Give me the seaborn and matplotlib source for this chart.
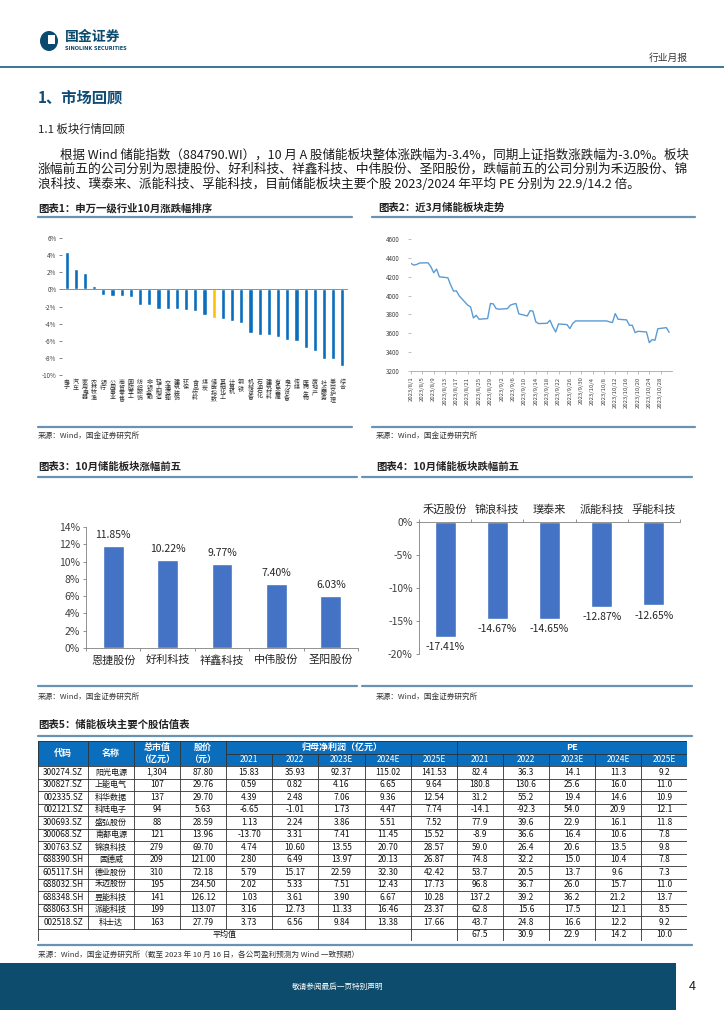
import numpy as np
import pandas as pd
import matplotlib
matplotlib.use('Agg')
import matplotlib.pyplot as plt
import matplotlib.patches as mpatches
import matplotlib.transforms as mtransforms
from matplotlib.lines import Line2D
import seaborn as sns

import warnings
warnings.filterwarnings('ignore')

sns.set_theme(style='white')
plt.rcParams['font.family'] = ['Noto Sans CJK SC', 'DejaVu Sans']
plt.rcParams['axes.unicode_minus'] = False

# ---------------- data ----------------
ind_names = ['电子', '汽车', '家用电器', '农林牧渔', '银行', '公用事业', '商贸零售', '国防军工',
             '纺织服饰', '非银金融', '轻工制造', '交通运输', '建筑装饰', '环保', '食品饮料', '煤炭',
             '储能指数', '基础化工', '计算机', '钢铁', '机械设备', '石油石化', '建筑材料', '有色金属',
             '电力设备', '传媒', '医药生物', '房地产', '社会服务', '美容护理', '综合']
ind_chg = [4.35, 2.35, 1.88, 0.35, -0.67, -0.78, -0.80, -0.90, -1.85, -1.88, -2.30, -2.30,
           -2.30, -2.45, -2.50, -2.95, -3.40, -3.50, -3.75, -3.90, -5.10, -5.30, -5.37, -5.60,
           -5.90, -6.00, -6.80, -7.25, -8.10, -8.10, -9.00]

trade_dates = ['2023-08-01', '2023-08-02', '2023-08-03', '2023-08-04', '2023-08-07', '2023-08-08',
               '2023-08-09', '2023-08-10', '2023-08-11', '2023-08-14', '2023-08-15', '2023-08-16',
               '2023-08-17', '2023-08-18', '2023-08-21', '2023-08-22', '2023-08-23', '2023-08-24',
               '2023-08-25', '2023-08-28', '2023-08-29', '2023-08-30', '2023-08-31', '2023-09-01',
               '2023-09-04', '2023-09-05', '2023-09-06', '2023-09-07', '2023-09-08', '2023-09-11',
               '2023-09-12', '2023-09-13', '2023-09-14', '2023-09-15', '2023-09-18', '2023-09-19',
               '2023-09-20', '2023-09-21', '2023-09-22', '2023-09-25', '2023-09-26', '2023-09-27',
               '2023-09-28', '2023-10-09', '2023-10-10', '2023-10-11', '2023-10-12', '2023-10-13',
               '2023-10-16', '2023-10-17', '2023-10-18', '2023-10-19', '2023-10-20', '2023-10-23',
               '2023-10-24', '2023-10-25', '2023-10-26', '2023-10-27', '2023-10-30', '2023-10-31']
idx_vals = [4341, 4323, 4330, 4345, 4348, 4306, 4242, 4281, 4199, 4189, 4111, 4047,
            4050, 3997, 3898, 3880, 3763, 3791, 3749, 3756, 3916, 3912, 3862, 3855,
            3862, 3898, 3909, 3916, 3806, 3784, 3841, 3834, 3721, 3703, 3706, 3738,
            3667, 3614, 3699, 3692, 3650, 3703, 3731, 3731, 3721, 3714, 3809, 3749,
            3742, 3685, 3685, 3607, 3621, 3614, 3501, 3533, 3526, 3648, 3660, 3610]

up_names = ['恩捷股份', '好利科技', '祥鑫科技', '中伟股份', '圣阳股份']
up_chg = [11.85, 10.22, 9.77, 7.40, 6.03]

down_names = ['禾迈股份', '锦浪科技', '璞泰来', '派能科技', '孚能科技']
down_chg = [-17.41, -14.67, -14.65, -12.87, -12.65]

codes = ['300274.SZ', '300827.SZ', '002335.SZ', '002121.SZ', '300693.SZ', '300068.SZ', '300763.SZ',
         '688390.SH', '605117.SH', '688032.SH', '688348.SH', '688063.SH', '002518.SZ']
stocks = ['阳光电源', '上能电气', '科华数据', '科陆电子', '盛弘股份', '南都电源', '锦浪科技',
          '固德威', '德业股份', '禾迈股份', '昱能科技', '派能科技', '科士达']
mcap = [1304, 107, 137, 94, 88, 121, 279, 209, 310, 195, 141, 199, 163]
price = [87.80, 29.76, 29.70, 5.63, 28.59, 13.96, 69.70, 121.00, 72.18, 234.50, 126.12, 113.07, 27.79]
np21 = [15.83, 0.59, 4.39, -6.65, 1.13, -13.70, 4.74, 2.80, 5.79, 2.02, 1.03, 3.16, 3.73]
np22 = [35.93, 0.82, 2.48, -1.01, 2.24, 3.31, 10.60, 6.49, 15.17, 5.33, 3.61, 12.73, 6.56]
np23 = [92.37, 4.16, 7.06, 1.73, 3.86, 7.41, 13.55, 13.97, 22.59, 7.51, 3.90, 11.33, 9.84]
np24 = [115.02, 6.65, 9.36, 4.47, 5.51, 11.45, 20.70, 20.13, 32.30, 12.43, 6.67, 16.46, 13.38]
np25 = [141.53, 9.64, 12.54, 7.74, 7.52, 15.52, 28.57, 26.87, 42.42, 17.73, 10.28, 23.37, 17.66]
pe21 = [82.4, 180.8, 31.2, -14.1, 77.9, -8.9, 59.0, 74.8, 53.7, 96.8, 137.2, 62.8, 43.7]
pe22 = [36.3, 130.6, 55.2, -92.3, 39.6, 36.6, 26.4, 32.2, 20.5, 36.7, 39.2, 15.6, 24.8]
pe23 = [14.1, 25.6, 19.4, 54.0, 22.9, 16.4, 20.6, 15.0, 13.7, 26.0, 36.2, 17.5, 16.6]
pe24 = [11.3, 16.0, 14.6, 20.9, 16.1, 10.6, 13.5, 10.4, 9.6, 15.7, 21.2, 12.1, 12.2]
pe25 = [9.2, 11.0, 10.9, 12.1, 11.8, 7.8, 9.8, 7.8, 7.3, 11.0, 13.7, 8.5, 9.2]
pe_avg = [67.5, 30.9, 22.9, 14.2, 10.0]
years = ['2021', '2022', '2023E', '2024E', '2025E']

# ---------------- page helpers ----------------
W, H = 724, 1024
fig = plt.figure(figsize=(W / 100, H / 100), dpi=100)
fig.patch.set_facecolor('white')


def px_axes(l, t, r, b):
    return fig.add_axes([l / W, 1 - b / H, (r - l) / W, (b - t) / H])


def ftext(x, y, s, **kw):
    kw.setdefault('va', 'center')
    return fig.text(x / W, 1 - y / H, s, **kw)


def hrule(x0, x1, y, color='#6A92B2', lw=1.6):
    fig.add_artist(Line2D([x0 / W, x1 / W], [1 - y / H, 1 - y / H], color=color, lw=lw))


def frect(l, t, r, b, color):
    fig.add_artist(mpatches.Rectangle((l / W, 1 - b / H), (r - l) / W, (b - t) / H,
                                      facecolor=color, edgecolor='none', transform=fig.transFigure))


# header
fig.add_artist(mpatches.Ellipse((49 / W, 1 - 41 / H), 18 / W, 20 / H, facecolor='#0B4A6F',
                                edgecolor='none', transform=fig.transFigure))
frect(48, 35, 55, 44, 'white')
ftext(65, 37, '国金证券', fontsize=10, fontweight='bold', color='#0B4A6F')
ftext(65, 49, 'SINOLINK SECURITIES', fontsize=3.6, fontweight='bold', color='#0B4A6F',
      family=['DejaVu Sans'])
ftext(688, 58, '行业月报', fontsize=7, color='#333333', ha='right')
hrule(0, W, 67, color='#2B6A8E', lw=1.3)

ftext(38, 98, '1、市场回顾', fontsize=11, fontweight='bold', color='#0F4C75')
ftext(38, 129, '1.1 板块行情回顾', fontsize=8.2, color='#222222')

para = ['根据 Wind 储能指数（884790.WI），10 月 A 股储能板块整体涨跌幅为-3.4%，同期上证指数涨跌幅为-3.0%。板块',
        '涨幅前五的公司分别为恩捷股份、好利科技、祥鑫科技、中伟股份、圣阳股份，跌幅前五的公司分别为禾迈股份、锦',
        '浪科技、璞泰来、派能科技、孚能科技，目前储能板块主要个股 2023/2024 年平均 PE 分别为 22.9/14.2 倍。']
ftext(60, 155, para[0], fontsize=9.0, color='#1a1a1a')
ftext(38, 169.5, para[1], fontsize=9.2, color='#1a1a1a')
ftext(38, 184, para[2], fontsize=9.1, color='#1a1a1a')

ftext(38, 208, '图表1：申万一级行业10月涨跌幅排序', fontsize=7.5, fontweight='bold', color='#222222')
ftext(378, 208, '图表2：近3月储能板块走势', fontsize=7.5, fontweight='bold', color='#222222')
hrule(38, 352, 217)
hrule(372, 695, 217)

# ---------------- chart 1 ----------------
ax1 = px_axes(62, 238, 347, 375)
colors1 = ['#FFC000' if n == '储能指数' else '#0A6EBD' for n in ind_names]
sns.barplot(x=ind_names, y=ind_chg, hue=ind_names, palette=colors1, legend=False,
            saturation=1, width=0.45, ax=ax1)
ax1.set_xlim(-0.5, len(ind_names) - 0.5)
ax1.set_ylim(-10, 6)
ax1.set_yticks(range(-10, 7, 2))
ax1.set_yticklabels([f'{v}%' for v in range(-10, 7, 2)], fontsize=4.5, color='#404040')
ax1.set_xticks(np.arange(-0.5, len(ind_names), 1))
ax1.set_xticklabels([])
ax1.set_xlabel('')
ax1.set_ylabel('')
for s in ['top', 'right', 'left']:
    ax1.spines[s].set_visible(False)
ax1.spines['bottom'].set_position(('data', 0))
ax1.spines['bottom'].set_color('#7f7f7f')
ax1.spines['bottom'].set_linewidth(0.6)
ax1.tick_params(axis='x', length=2, width=0.5, direction='inout', color='#555555')
ax1.tick_params(axis='y', left=True, length=2, width=0.5, color='#555555', pad=2)
trans1 = mtransforms.blended_transform_factory(ax1.transData, ax1.transAxes)
for i, n in enumerate(ind_names):
    ax1.text(i, -0.035, '\n'.join(n), transform=trans1, ha='center', va='top',
             fontsize=4.3, linespacing=0.95, color='#333333')

# ---------------- chart 2 ----------------
ax2 = px_axes(411, 239, 672, 371)
dates = pd.to_datetime(trade_dates)
sns.lineplot(x=dates, y=idx_vals, ax=ax2, color='#5B9BD5', linewidth=1.0)
ax2.set_ylim(3200, 4600)
ax2.set_yticks(range(3200, 4601, 200))
ax2.set_yticklabels([str(v) for v in range(3200, 4601, 200)], fontsize=4.5, color='#404040')
xt = pd.date_range('2023-08-01', '2023-10-28', freq='4D')
ax2.set_xticks(xt)
ax2.set_xticklabels([f'{d.year}/{d.month}/{d.day}' for d in xt], rotation=90,
                    fontsize=4.3, color='#404040')
ax2.set_xlim(pd.Timestamp('2023-08-01'), pd.Timestamp('2023-11-01'))
ax2.set_xlabel('')
ax2.set_ylabel('')
for s in ['top', 'right', 'left']:
    ax2.spines[s].set_visible(False)
ax2.spines['bottom'].set_color('#a6a6a6')
ax2.spines['bottom'].set_linewidth(0.6)
ax2.tick_params(axis='x', bottom=True, length=2.5, width=0.5, color='#a6a6a6', pad=1.5)
ax2.tick_params(axis='y', left=True, length=2, width=0.5, color='#a6a6a6', pad=6)

hrule(38, 352, 427)
hrule(372, 695, 427)
ftext(38, 436, '来源：Wind，国金证券研究所', fontsize=5.5, color='#333333')
ftext(376, 436, '来源：Wind，国金证券研究所', fontsize=5.5, color='#333333')

ftext(38, 467, '图表3：10月储能板块涨幅前五', fontsize=7.5, fontweight='bold', color='#222222')
ftext(376, 467, '图表4：10月储能板块跌幅前五', fontsize=7.5, fontweight='bold', color='#222222')
hrule(38, 357, 477)
hrule(362, 692, 477)

# ---------------- chart 3 ----------------
ax3 = px_axes(86, 527, 358, 648)
sns.barplot(x=up_names, y=up_chg, color='#4472C4', saturation=1, width=0.38, ax=ax3)
ax3.set_ylim(0, 14)
ax3.set_yticks(range(0, 15, 2))
ax3.set_yticklabels([f'{v}%' for v in range(0, 15, 2)], fontsize=7.5, color='#404040')
ax3.set_xticks(range(len(up_names)))
ax3.set_xticklabels(up_names, fontsize=8, color='#262626')
ax3.set_xticks(np.arange(-0.5, len(up_names), 1), minor=True)
ax3.set_xlim(-0.5, len(up_names) - 0.5)
ax3.set_xlabel('')
ax3.set_ylabel('')
for s in ['top', 'right']:
    ax3.spines[s].set_visible(False)
for s in ['left', 'bottom']:
    ax3.spines[s].set_color('#808080')
    ax3.spines[s].set_linewidth(0.6)
ax3.tick_params(axis='x', which='major', length=0, pad=5)
ax3.tick_params(axis='x', which='minor', bottom=True, length=2.5, width=0.6, color='#808080')
ax3.tick_params(axis='y', left=True, length=2.5, width=0.6, color='#808080', pad=2)
for i, v in enumerate(up_chg):
    ax3.text(i, v + 0.7, f'{v:.2f}%', ha='center', va='bottom', fontsize=7.5, color='#262626')

# ---------------- chart 4 ----------------
ax4 = px_axes(419, 522, 680, 654)
sns.barplot(x=down_names, y=down_chg, color='#4472C4', saturation=1, width=0.4, ax=ax4)
ax4.set_ylim(-20, 0)
ax4.set_yticks(range(-20, 1, 5))
ax4.set_yticklabels([f'{v}%' for v in range(-20, 1, 5)], fontsize=7.5, color='#404040')
ax4.xaxis.tick_top()
ax4.set_xticks(range(len(down_names)))
ax4.set_xticklabels(down_names, fontsize=8, color='#262626')
ax4.set_xticks(np.arange(-0.5, len(down_names), 1), minor=True)
ax4.set_xlim(-0.5, len(down_names) - 0.5)
ax4.set_xlabel('')
ax4.set_ylabel('')
for s in ['bottom', 'right']:
    ax4.spines[s].set_visible(False)
for s in ['left', 'top']:
    ax4.spines[s].set_color('#808080')
    ax4.spines[s].set_linewidth(0.6)
ax4.tick_params(axis='x', which='major', length=0, pad=5)
ax4.tick_params(axis='x', which='minor', top=True, bottom=False, length=2.5, width=0.6,
                color='#808080', direction='out')
ax4.tick_params(axis='y', left=True, length=2.5, width=0.6, color='#808080', pad=2)
for i, v in enumerate(down_chg):
    ax4.text(i, v - 0.8, f'{v:.2f}%', ha='center', va='top', fontsize=7.5, color='#262626')

hrule(38, 357, 686)
hrule(362, 692, 686)
ftext(38, 697, '来源：Wind，国金证券研究所', fontsize=5.5, color='#333333')
ftext(376, 697, '来源：Wind，国金证券研究所', fontsize=5.5, color='#333333')

# ---------------- table ----------------
ftext(38, 725, '图表5：储能板块主要个股估值表', fontsize=7.5, fontweight='bold', color='#222222')
hrule(38, 692, 736)

col_edges = [38, 88, 134, 180, 226, 272, 318, 365, 411, 457, 503, 549, 595, 641, 687]
top, hdr, row_h = 741, 25, 12.5
n_rows = len(codes)
bottom = top + hdr + row_h * (n_rows + 1)

axt = px_axes(38, top, 687, bottom)
axt.set_xlim(38, 687)
axt.set_ylim(bottom, top)
axt.axis('off')
lc = '#303030'
lw = 0.6
axt.add_patch(mpatches.Rectangle((38, top), 687 - 38, hdr, facecolor='#0A6EBD', edgecolor='none'))
num_font = ['Liberation Sans Narrow', 'Noto Sans CJK SC']


def cx(i):
    return (col_edges[i] + col_edges[i + 1]) / 2


# header texts
axt.text(cx(0), top + hdr / 2, '代码', ha='center', va='center', color='white', fontsize=6.5, fontweight='bold')
axt.text(cx(1), top + hdr / 2, '名称', ha='center', va='center', color='white', fontsize=6.5, fontweight='bold')
axt.text(cx(2), top + hdr / 4, '总市值', ha='center', va='center', color='white', fontsize=6.5, fontweight='bold')
axt.text(cx(2), top + hdr * 3 / 4, '（亿元）', ha='center', va='center', color='white', fontsize=6.5, fontweight='bold')
axt.text(cx(3), top + hdr / 4, '股价', ha='center', va='center', color='white', fontsize=6.5, fontweight='bold')
axt.text(cx(3), top + hdr * 3 / 4, '（元）', ha='center', va='center', color='white', fontsize=6.5, fontweight='bold')
axt.text((col_edges[4] + col_edges[9]) / 2, top + hdr / 4, '归母净利润（亿元）', ha='center', va='center',
         color='white', fontsize=6.5, fontweight='bold')
axt.text((col_edges[9] + col_edges[14]) / 2, top + hdr / 4, 'PE', ha='center', va='center',
         color='white', fontsize=6.5, fontweight='bold')
for k, yname in enumerate(years):
    axt.text(cx(4 + k), top + hdr * 3 / 4, yname, ha='center', va='center', color='white',
             fontsize=6, family=num_font)
    axt.text(cx(9 + k), top + hdr * 3 / 4, yname, ha='center', va='center', color='white',
             fontsize=6, family=num_font)

# header lines
axt.plot([226, 687], [top + hdr / 2] * 2, color=lc, lw=lw)
for i, x in enumerate(col_edges):
    if x in (38, 88, 134, 180, 226, 457, 687):
        axt.plot([x, x], [top, top + hdr], color=lc, lw=lw)
    else:
        axt.plot([x, x], [top + hdr / 2, top + hdr], color=lc, lw=lw)

# body
for r in range(n_rows):
    yc = top + hdr + row_h * (r + 0.5)
    vals = [codes[r], stocks[r], f'{mcap[r]:,}', f'{price[r]:.2f}',
            f'{np21[r]:.2f}', f'{np22[r]:.2f}', f'{np23[r]:.2f}', f'{np24[r]:.2f}', f'{np25[r]:.2f}',
            f'{pe21[r]:.1f}', f'{pe22[r]:.1f}', f'{pe23[r]:.1f}', f'{pe24[r]:.1f}', f'{pe25[r]:.1f}']
    for c, v in enumerate(vals):
        axt.text(cx(c), yc, v, ha='center', va='center', fontsize=6 if c != 1 else 5.8,
                 color='#111111', family=num_font)
# average row
ya = top + hdr + row_h * (n_rows + 0.5)
axt.text((col_edges[0] + col_edges[8]) / 2, ya, '平均值', ha='center', va='center', fontsize=5.8, color='#111111')
for k, v in enumerate(pe_avg):
    axt.text(cx(9 + k), ya, f'{v:.1f}', ha='center', va='center', fontsize=6, color='#111111', family=num_font)

for r in range(n_rows + 2):
    y = top + hdr + row_h * r
    axt.plot([38, 687], [y, y], color=lc, lw=lw)
for x in col_edges:
    axt.plot([x, x], [top + hdr, top + hdr + row_h * n_rows], color=lc, lw=lw)
for x in [38, 411, 457, 503, 549, 595, 641, 687]:
    axt.plot([x, x], [top + hdr + row_h * n_rows, bottom], color=lc, lw=lw)
axt.plot([38, 687], [top, top], color=lc, lw=lw)

hrule(38, 692, 945)
ftext(38, 955, '来源：Wind，国金证券研究所（截至 2023 年 10 月 16 日，各公司盈利预测为 Wind 一致预期）',
      fontsize=5.5, color='#333333')

# ---------------- footer ----------------
frect(0, 963, 676, 1010, '#0D4C6D')
ftext(338, 987, '敬请参阅最后一页特别声明', fontsize=5.5, color='white', ha='center')
ftext(692, 987, '4', fontsize=9, color='#222222', ha='center')

fig.savefig('out.png', dpi=100)
